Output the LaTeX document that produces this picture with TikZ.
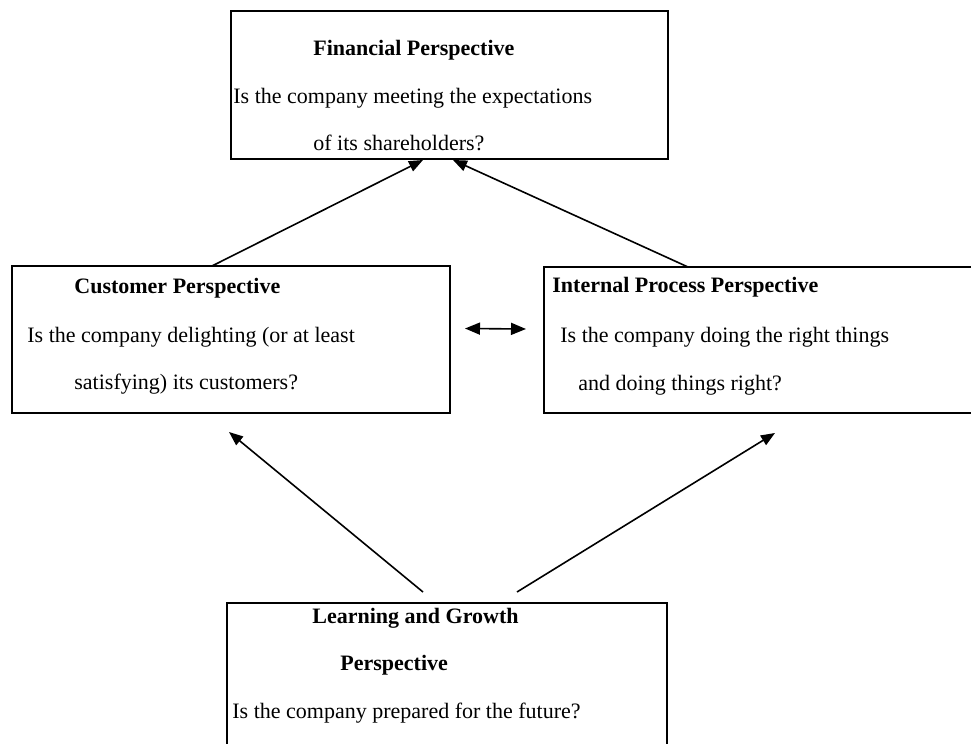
\documentclass[tikz,border=0pt]{standalone}
\usepackage{fontspec}
\setmainfont{Liberation Serif}
\usetikzlibrary{arrows.meta, calc}

\begin{document}
\begin{tikzpicture}[x=0.5pt, y=-0.5pt,
    box/.style={draw, line width=0.7pt, inner sep=0pt, outer sep=0pt, anchor=north west},
    txt/.style={anchor=base west, inner sep=0pt, font=\fontsize{11pt}{13pt}\selectfont},
    link/.style={line width=0.8pt, -{Triangle[length=7pt, width=5.5pt]}}]
    \useasboundingbox (0,0) rectangle (971,744);
    \clip (0,0) rectangle (971,744);

    % the four boxes
    \node[box, minimum width=218.5pt, minimum height=74pt] (fin) at (231,11) {};
    \node[box, minimum width=219pt, minimum height=73.5pt] (cust) at (12,266) {};
    \node[box, minimum width=228pt, minimum height=73pt] (proc) at (544,267) {};
    \node[box, minimum width=220pt, minimum height=98.5pt] (learn) at (227,603) {};

    % texts
    \node[txt] (fin-title) at (313,55) {\textbf{Financial Perspective}};
    \node[txt] (fin-q1) at (233,104) {Is the company meeting the expectations};
    \node[txt] (fin-q2) at (313,150) {of its shareholders?};

    \node[txt] (cust-title) at (74,293) {\textbf{Customer Perspective}};
    \node[txt] (cust-q1) at (27,342) {Is the company delighting (or at least};
    \node[txt] (cust-q2) at (74,389) {satisfying) its customers?};

    \node[txt] (proc-title) at (552,292) {\textbf{Internal Process Perspective}};
    \node[txt] (proc-q1) at (560,342) {Is the company doing the right things};
    \node[txt] (proc-q2) at (578,390) {and doing things right?};

    \node[txt] (learn-title) at (312,623) {\textbf{Learning and Growth}};
    \node[txt] (learn-title2) at (340,670) {\textbf{Perspective}};
    \node[txt] (learn-q) at (232,718) {Is the company prepared for the future?};

    % links
    \draw[link] ($(cust.north west)+(200,0)$) -- ($(fin.south west)+(192,1)$);
    \draw[link] ($(proc.north west)+(144,0)$) -- ($(fin.south west)+(222,1)$);
    \draw[link] ($(learn.north west)+(196,-11)$) -- ($(cust.south west)+(217,19)$);
    \draw[link] ($(learn.north west)+(290,-11)$) -- ($(proc.south west)+(231,20)$);
    \draw[link, {Triangle[length=7.5pt, width=6pt]}-{Triangle[length=7.5pt, width=6pt]}]
        ($(cust.east)+(15,-11)$) -- ($(proc.west)+(-18,-11)$);
\end{tikzpicture}
\end{document}
